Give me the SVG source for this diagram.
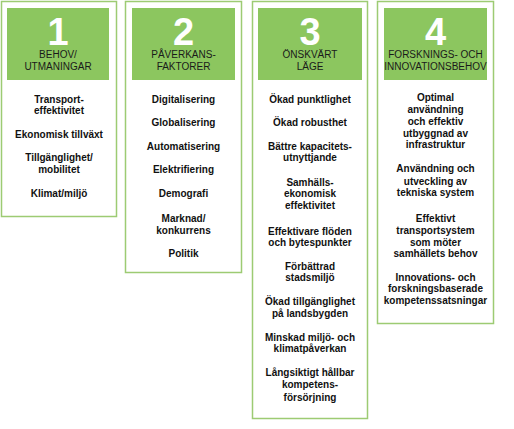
<svg xmlns="http://www.w3.org/2000/svg" width="514" height="429" viewBox="0 0 514 429">
<style>
.box{fill:#fff;stroke:#9dcb73;stroke-width:1.5}
.hdr{fill:#8cc65f}
.num{font-family:"Liberation Sans",Arial,sans-serif;font-weight:bold;font-size:38px;fill:#fff;text-anchor:middle}
.lab{font-family:"Liberation Sans",Arial,sans-serif;font-size:10px;fill:#1a1a1a;text-anchor:middle}
.itm{font-family:"Liberation Sans",Arial,sans-serif;font-weight:bold;font-size:10px;fill:#111;text-anchor:middle}
</style>
<rect width="514" height="429" fill="#fff"/>
<g id="node1">
<rect class="box" x="1.5" y="1.5" width="115" height="215"/>
<rect class="hdr" x="7" y="8" width="102" height="72"/>
<text class="num" x="58" y="45">1</text>
<text class="lab" x="58" y="58">BEHOV/</text>
<text class="lab" x="58" y="70">UTMANINGAR</text>
<text class="itm" x="59" y="103">Transport-</text>
<text class="itm" x="59" y="114">effektivitet</text>
<text class="itm" x="59" y="138">Ekonomisk tillväxt</text>
<text class="itm" x="59" y="161">Tillgänglighet/</text>
<text class="itm" x="59" y="173">mobilitet</text>
<text class="itm" x="59" y="197">Klimat/miljö</text>
</g>
<g id="node2">
<rect class="box" x="125.5" y="1.5" width="116" height="271"/>
<rect class="hdr" x="132" y="8" width="103" height="72"/>
<text class="num" x="183.5" y="45">2</text>
<text class="lab" x="183.5" y="58">PÅVERKANS-</text>
<text class="lab" x="183.5" y="70">FAKTORER</text>
<text class="itm" x="183.5" y="103">Digitalisering</text>
<text class="itm" x="183.5" y="126">Globalisering</text>
<text class="itm" x="183.5" y="150">Automatisering</text>
<text class="itm" x="183.5" y="173">Elektrifiering</text>
<text class="itm" x="183.5" y="197">Demografi</text>
<text class="itm" x="183.5" y="222">Marknad/</text>
<text class="itm" x="183.5" y="234">konkurrens</text>
<text class="itm" x="183.5" y="257">Politik</text>
</g>
<g id="node3">
<rect class="box" x="252.5" y="1.5" width="115" height="417"/>
<rect class="hdr" x="258" y="8" width="104" height="72"/>
<text class="num" x="310" y="45">3</text>
<text class="lab" x="310" y="58">ÖNSKVÄRT</text>
<text class="lab" x="310" y="70">LÄGE</text>
<text class="itm" x="310" y="103">Ökad punktlighet</text>
<text class="itm" x="310" y="126">Ökad robusthet</text>
<text class="itm" x="310" y="150">Bättre kapacitets-</text>
<text class="itm" x="310" y="161">utnyttjande</text>
<text class="itm" x="310" y="186">Samhälls-</text>
<text class="itm" x="310" y="197">ekonomisk</text>
<text class="itm" x="310" y="209">effektivitet</text>
<text class="itm" x="310" y="235">Effektivare flöden</text>
<text class="itm" x="310" y="246">och bytespunkter</text>
<text class="itm" x="310" y="270">Förbättrad</text>
<text class="itm" x="310" y="281">stadsmiljö</text>
<text class="itm" x="310" y="305">Ökad tillgänglighet</text>
<text class="itm" x="310" y="317">på landsbygden</text>
<text class="itm" x="310" y="341">Minskad miljö- och</text>
<text class="itm" x="310" y="352">klimatpåverkan</text>
<text class="itm" x="310" y="376">Långsiktigt hållbar</text>
<text class="itm" x="310" y="388">kompetens-</text>
<text class="itm" x="310" y="401">försörjning</text>
</g>
<g id="node4">
<rect class="box" x="377.5" y="1.5" width="116" height="322"/>
<rect class="hdr" x="384" y="8" width="103" height="72"/>
<text class="num" x="435.5" y="45">4</text>
<text class="lab" x="435.5" y="58">FORSKNINGS- OCH</text>
<text class="lab" x="435.5" y="70">INNOVATIONSBEHOV</text>
<text class="itm" x="435.5" y="101">Optimal</text>
<text class="itm" x="435.5" y="113">användning</text>
<text class="itm" x="435.5" y="125">och effektiv</text>
<text class="itm" x="435.5" y="137">utbyggnad av</text>
<text class="itm" x="435.5" y="148">infrastruktur</text>
<text class="itm" x="435.5" y="172">Användning och</text>
<text class="itm" x="435.5" y="185">utveckling av</text>
<text class="itm" x="435.5" y="196">tekniska system</text>
<text class="itm" x="435.5" y="222">Effektivt</text>
<text class="itm" x="435.5" y="234">transportsystem</text>
<text class="itm" x="435.5" y="246">som möter</text>
<text class="itm" x="435.5" y="257">samhällets behov</text>
<text class="itm" x="435.5" y="281">Innovations- och</text>
<text class="itm" x="435.5" y="292">forskningsbaserade</text>
<text class="itm" x="435.5" y="304">kompetenssatsningar</text>
</g>
<g id="connectors"></g>
</svg>
